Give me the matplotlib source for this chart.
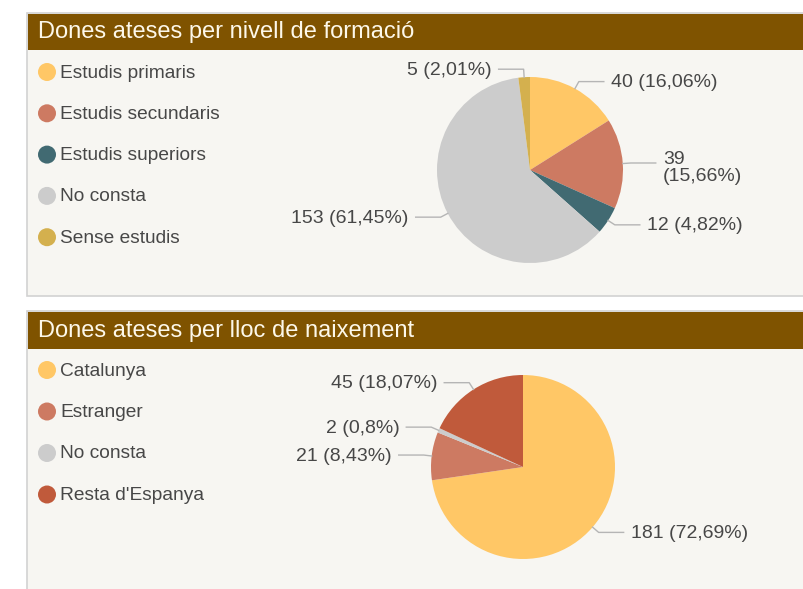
import numpy as np
import matplotlib
matplotlib.use("Agg")
import matplotlib.pyplot as plt
from matplotlib.patches import Rectangle, Circle

plt.rcParams['font.family'] = ['Liberation Sans', 'DejaVu Sans']

# data
formacio_title = "Dones ateses per nivell de formació"
formacio_cats = ["Estudis primaris", "Estudis secundaris", "Estudis superiors", "No consta", "Sense estudis"]
formacio_vals = [40, 39, 12, 153, 5]

naixement_title = "Dones ateses per lloc de naixement"
naixement_cats = ["Catalunya", "Estranger", "No consta", "Resta d'Espanya"]
naixement_vals = [181, 21, 2, 45]

# styles
formacio_colors = ["#ffc766", "#cd7a62", "#416a72", "#cccccc", "#d4b04e"]
naixement_colors = ["#ffc766", "#cd7a62", "#cccccc", "#c05a3b"]
brown = "#7f5300"
panel_bg = "#f7f6f2"
text_col = "#474747"
line_col = "#b5b5b5"

W, H = 804, 589
fig = plt.figure(figsize=(W / 100, H / 100), dpi=100)
fig.patch.set_facecolor("white")
ax = fig.add_axes([0, 0, 1, 1])


def Y(py):
    return H - py


def fmt(v, total):
    p = round(100 * v / total, 2)
    s = ("%.2f" % p).rstrip("0").rstrip(".")
    return "%d (%s%%)" % (v, s.replace(".", ","))


def panel(top, bottom, header_h, title):
    ax.add_patch(Rectangle((27, Y(bottom)), W, bottom - top, facecolor=panel_bg,
                           edgecolor="#d2d2d2", lw=1.2, zorder=0))
    ax.add_patch(Rectangle((28, Y(top + 1 + header_h)), W, header_h, facecolor=brown,
                           edgecolor="none", zorder=1))
    ax.text(38, Y(top + 1 + header_h / 2), title, color="#fdf8ea", fontsize=17,
            va="center", ha="left", zorder=2)


def legend(cats, colors, y0, step):
    for i, (c, col) in enumerate(zip(cats, colors)):
        y = Y(y0 + i * step)
        ax.add_patch(Circle((47, y), 9, facecolor=col, edgecolor="none", zorder=2))
        ax.text(60, y - 1, c, color=text_col, fontsize=13.8, va="center", ha="left", zorder=2)


def pie(vals, colors, cx, cy, r):
    total = sum(vals)
    wedges, _ = ax.pie(vals, colors=colors, startangle=90, counterclock=False,
                       center=(cx, Y(cy)), radius=r, wedgeprops=dict(linewidth=0))
    for w, v in zip(wedges, vals):
        th = np.deg2rad((w.theta1 + w.theta2) / 2)
        ex, ey = cx + r * np.cos(th), Y(cy) + r * np.sin(th)
        bx, by = cx + (r + 8) * np.cos(th), Y(cy) + (r + 8) * np.sin(th)
        side = 1 if np.cos(th) >= 0 else -1
        lx = bx + side * 25
        ax.plot([ex, bx, lx], [ey, by, by], color=line_col, lw=1, zorder=3)
        label = fmt(v, total)
        ty = by - 1
        if side > 0 and lx + 7 + 8.7 * len(label) > 745:
            label = label.replace(" ", "\n", 1)
            ty = by - 5
        ax.text(lx + side * 7, ty, label, color=text_col, fontsize=14,
                ha="left" if side > 0 else "right", va="center", linespacing=1.05, zorder=3)


panel(13, 296, 36, formacio_title)
legend(formacio_cats, formacio_colors, 72, 41.3)
pie(formacio_vals, formacio_colors, 530, 170, 93)

panel(311, 600, 37, naixement_title)
legend(naixement_cats, naixement_colors, 370, 41.5)
pie(naixement_vals, naixement_colors, 523, 467, 92)

ax.set_xlim(0, W)
ax.set_ylim(0, H)
ax.set_aspect("auto")
ax.set_axis_off()

fig.savefig("out.png", dpi=100, facecolor=fig.get_facecolor())
